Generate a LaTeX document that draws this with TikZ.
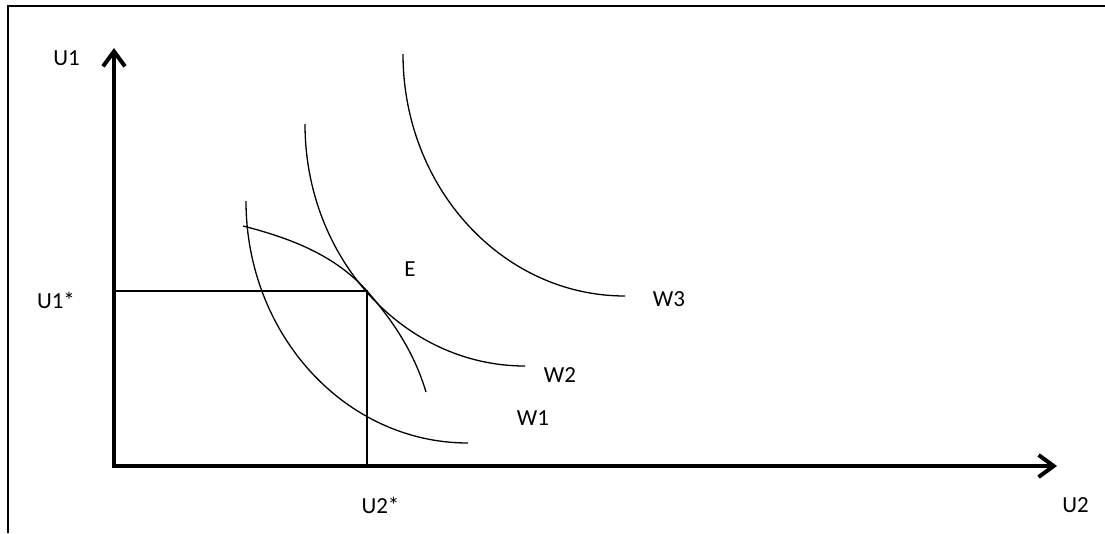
\documentclass[tikz,border=0pt]{standalone}
\usepackage{fontspec}
\setmainfont{Carlito}
\usetikzlibrary{arrows.meta}
\tikzset{
  axis/.style={line width=4pt, line join=miter, -{Straight Barb[length=15pt,width=22pt]}},
  curve/.style={line width=1.3pt},
  guide/.style={line width=2.6pt},
  frameline/.style={line width=2pt},
  lbl/.style={inner sep=0pt, anchor=center, font=\fontsize{23}{27}\selectfont}
}
\begin{document}
\begin{tikzpicture}[x=1pt,y=-1pt]
\useasboundingbox (0,0) rectangle (1105,533);
% frame (top and left only)
\draw[frameline] (8,533) -- (8,6) -- (1105,6);
% coordinates
\coordinate (O) at (114,466);
\coordinate (Ytop) at (114,48);
\coordinate (Xleft) at (112,466);
\coordinate (Xend) at (1057,466);
\coordinate (E) at (367,291);
\coordinate (Yst) at (114,291);
\coordinate (Xst) at (367,466);
% guide lines
\draw[guide] (Yst) -- (E) -- (Xst);
% axes
\draw[axis] (O) -- (Ytop);
\draw[axis] (Xleft) -- (Xend);
% indifference curves (quarter ellipses)
\draw[curve] (246,201) .. controls (246,334.7) and (345.4,443) .. (468,443);
\draw[curve] (305,124) .. controls (305,257.7) and (403.5,366) .. (525,366);
\draw[curve] (403,54) .. controls (403,187.7) and (502.4,296) .. (625,296);
% utility possibility frontier
\draw[curve] (243,226) .. controls (290,238) and (335,255) .. (E)
  .. controls (395,323) and (415,355) .. (426,392);
% labels
\node[lbl] (lU1) at (66.5,58.5) {U1};
\node[lbl] (lU1s) at (56,300) {U1*};
\node[lbl] (lU2s) at (380.5,505.5) {U2*};
\node[lbl] (lU2) at (1075.5,505.5) {U2};
\node[lbl] (lE) at (410,269.5) {E};
\node[lbl] (lW3) at (669,299.5) {W3};
\node[lbl] (lW2) at (560,375.5) {W2};
\node[lbl] (lW1) at (533,418) {W1};
\end{tikzpicture}
\end{document}
